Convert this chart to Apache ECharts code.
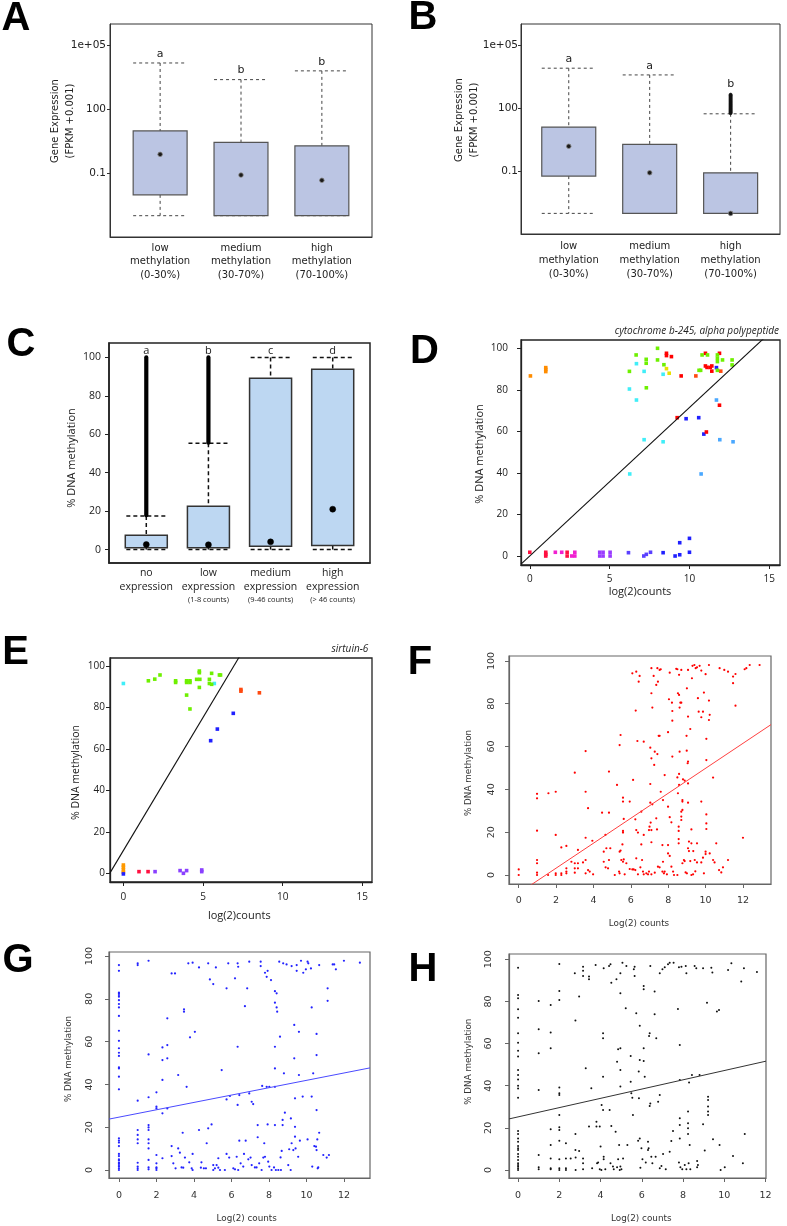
<!DOCTYPE html>
<html><head><meta charset="utf-8">
<script src="https://cdn.jsdelivr.net/npm/echarts@6/dist/echarts.min.js"></script>
<style>html,body{margin:0;padding:0;background:#fff}#c{width:787px;height:1226px}</style>
</head><body><div id="c"></div>
<script>
// ================= DATA =================
// Panels A/B: gene expression (FPKM + 0.001) by methylation class
// each box: [lower whisker, Q1, median, Q3, upper whisker]
const methylCats = ['low\nmethylation\n(0-30%)', 'medium\nmethylation\n(30-70%)', 'high\nmethylation\n(70-100%)'];
const boxA_low = [0.001, 0.0095, 0.76, 9.5, 14800];
const boxA_medium = [0.001, 0.001, 0.081, 2.75, 2450];
const boxA_high = [0.001, 0.001, 0.046, 1.9, 6300];
const lettersA = ['a', 'b', 'b'];
const boxB_low = [0.001, 0.059, 1.55, 12.6, 7940];
const boxB_medium = [0.001, 0.001, 0.085, 1.9, 3800];
const boxB_high = [0.001, 0.001, 0.001, 0.085, 54];
const outliersB_high = [58, 64, 71, 79, 88, 98, 110, 123, 138, 155, 174, 196, 220, 248, 280, 316, 356, 400, 436];
const lettersB = ['a', 'a', 'b'];
const expTicks = [0.1, 100, 100000];
const expTickLabels = ['0.1', '100', '1e+05'];

// Panel C: % DNA methylation by expression class
const cCats = ['no\nexpression', 'low\nexpression', 'medium\nexpression', 'high\nexpression'];
const cSub = ['', '(1-8 counts)', '(9-46 counts)', '(> 46 counts)'];
const boxC_no = [0, 1, 2.6, 7.5, 17.5];
const boxC_low = [0, 1, 2.5, 22.6, 55.3];
const boxC_medium = [0, 1.7, 4, 89.2, 100];
const boxC_high = [0, 2.1, 21, 93.9, 100];
const outlierRangeC = [[17.8, 100], [55.6, 100], null, null];
const lettersC = ['a', 'b', 'c', 'd'];
const pctTicks = [0, 20, 40, 60, 80, 100];

// Panel D: cytochrome b-245, alpha polypeptide  [log2 counts, % methylation]
const dTitle = 'cytochrome b-245, alpha polypeptide';
const dOrange = [[0.04, 86.7], [1.0, 88.8], [1.0, 89.8], [1.0, 90.7]];
const dCrimson = [[0, 1.8], [1, 0], [1, 0.8], [1, 1.8], [2.34, 1.8], [2.34, 0]];
const dMagenta = [[1.6, 1.8], [2.0, 1.8], [2.63, 0], [2.82, 1.8], [2.82, 0]];
const dViolet = [[4.38, 1.8], [4.38, 0], [4.59, 1.8], [4.59, 0], [5.03, 1.8], [5.03, 0]];
const dIndigo = [[6.18, 1.6], [7.14, 0], [7.3, 0.8], [7.56, 1.8]];
const dBlue = [[8.35, 1.6], [9.1, 0], [9.39, 6.4], [9.39, 0.6], [10.0, 8.5], [10.0, 1.8], [9.79, 66.1], [10.58, 66.6], [10.9, 58.7], [11.69, 90.7]];
const dRed = [[9.23, 66.6], [11.06, 59.7], [11.88, 72.6], [8.56, 97.6], [8.56, 96.5], [8.87, 96], [9.48, 86.7], [11.0, 97.6], [11.0, 91.5], [11.1, 90.8], [11.3, 90.8], [11.4, 91.5], [11.4, 89], [11.88, 97.6]];
const dOrangeRed = [[10.4, 86.7], [11.96, 89]];
const dSky = [[11.69, 75.1], [11.9, 56], [12.73, 55], [10.73, 39.5]];
const dCyan = [[6.24, 80.4], [6.68, 75.1], [6.68, 92.6], [7.16, 88.9], [7.16, 56], [6.26, 39.5], [8.35, 55], [8.35, 87.5]];
const dGreen = [[6.24, 88.9], [6.66, 96.8], [7.29, 94.7], [7.29, 92.8], [7.3, 81], [8.0, 100], [8.0, 94.4], [8.4, 92.1], [10.6, 89.4], [10.7, 89.4], [10.79, 96.8], [11.13, 96.8], [11.75, 96.8], [11.75, 95.2], [11.75, 93.6], [11.75, 89.4], [12.07, 94.4], [12.67, 94.4], [12.67, 92]];
const dYellow = [[8.56, 90.2], [8.73, 88]];
const dFit = {intercept: 0, slope: 7.15};
const dTicksX = [0, 5, 10, 15];

// Panel E: sirtuin-6
const eTitle = 'sirtuin-6';
const eCyan = [[0, 91.6], [5.71, 91.6]];
const eOrange = [[0, 4], [0, 2.9], [0, 1.6], [0, 0.5]];
const eBlue = [[0, -0.3], [6.9, 77.2], [5.9, 69.6], [5.48, 64]];
const eRed = [[0.98, 0.8], [1.55, 0.8]];
const eViolet = [[1.99, 0.8], [3.56, 1.3], [3.77, 0], [3.97, 1.3], [4.92, 0.8], [4.92, 1.6]];
const eGreen = [[1.57, 92.9], [1.97, 93.7], [2.3, 95.7], [3.28, 92.9], [3.28, 92.1], [3.97, 92.9], [3.97, 92.1], [4.18, 92.9], [4.18, 92.1], [3.97, 86], [4.18, 79.3], [4.77, 97.6], [4.77, 96.8], [4.6, 93.6], [4.8, 93.6], [4.77, 89.7], [5.4, 93.6], [5.4, 91.6], [5.54, 96.5], [5.54, 91.2], [6.03, 95.7], [6.1, 95.7]];
const eOrangeRed = [[7.38, 88.7], [7.38, 87.9], [8.54, 87.1]];
const eFit = {intercept: 11, slope: 12.84};

// Panel F
const fPoints = [
[6.08,94.2],[6.29,95],[6.42,90.3],[6.47,93],[7.1,96.6],[7.22,93],[7.36,88.8],[7.45,90.3],[7.42,96.6],[7.54,95.8],[7.6,96.1],[8.08,94.5],[8.43,96.3],[8.49,96.1],[8.58,93.5],[8.7,95.8],[9.06,95.8],[9.27,91.9],[9.3,97.7],[9.4,98.1],[9.47,96.6],[9.54,97],[9.68,97.7],[9.77,95.5],[10.0,93.8],[10.18,98.1],[10.75,96.6],[11.0,95.8],[11.2,95],[11.47,89.6],[11.47,92.7],[11.6,93.9],[12.09,96.1],[12.18,96.6],[12.36,98.1],[12.89,98.1],
[6.26,76.8],[6.35,62.6],[6.69,62.3],[7.1,84.9],[7.15,78.2],[7.49,65],[7.54,65],[8.04,82.1],[8.2,80.5],[8.22,76.6],[7.99,66.7],[8.52,84.9],[8.58,84.1],[8.65,80.5],[8.7,80.5],[8.61,78.2],[9.0,87.2],[8.98,65],[9.06,74],[9.18,68.2],[9.91,85.2],[9.59,82.6],[9.63,76.3],[9.77,73.7],[9.86,76.3],[10.18,81.5],[10.18,72.4],[10.22,74.8],[10.04,63.6],[11.6,79.1],[8.22,72.1],[8.61,57.6],[8.99,58.1],[7.04,59.5],[7.1,54.5],[7.28,57.6],[7.42,56.5],[7.25,51.4],[5.4,60.7],[5.45,65.4],[3.58,57.9],[8.22,55.3],[9.04,52.2],[9.06,53],[10.04,53.7],
[0.98,37.9],[0.98,35.8],[1.59,38.2],[1.98,38.9],[3.0,47.8],[3.58,38.9],[3.71,31.2],[4.83,48.3],[5.26,42.1],[5.58,36.1],[5.58,34.3],[5.94,34.3],[6.12,44.4],[7.04,42.5],[7.04,33.8],[7.15,33],[7.6,38.9],[7.81,46.7],[8.58,47.2],[8.49,45.6],[8.52,38.2],[8.58,42.1],[8.79,44.7],[8.88,44.1],[9.06,42.8],[9.06,33.8],[8.76,35],[8.76,34.3],[8.76,30.4],[8.7,29.6],[9.77,34.3],[10.4,45.5],[7.99,31.9],[7.72,35],
[0.98,20.7],[1.98,18.7],[3.58,17.4],[3.94,16],[4.46,29.1],[4.83,29.1],[4.64,18.7],[5.62,26.2],[5.58,20.6],[5.58,19.8],[6.24,26],[6.29,21],[6.38,19.8],[6.56,29.6],[6.69,18.7],[7.0,22.6],[7.06,24.5],[6.97,21],[7.1,21],[7.4,21.3],[7.36,26.5],[7.69,14],[8.08,27],[8.17,24.6],[7.99,14],[8.56,22.6],[8.56,20.6],[8.56,16.8],[8.56,14.8],[8.7,27.3],[8.7,25.7],[9.24,21.3],[9.11,15.6],[9.24,14.8],[9.54,14.8],[10.04,24.1],[10.04,21.5],[10.04,28.3],[10.57,14.8],[12.0,17.4],[9.06,12.5],[9.11,11.2],[9.34,11.2],[10.0,10.9],[10.0,9.8],[2.55,13.6],[2.28,12.9],[3.17,11.7],[4.69,12.5],[4.9,12.5],[4.55,10.9],[5.4,10.9],[5.45,11.4],[5.55,14.3],[6.56,14.3],[7.1,15.3],
[0,2.6],[0,0],[0.98,7],[0.98,5.5],[0.98,1.1],[0.98,0],[1.57,0],[1.98,0],[1.98,0.8],[2.28,0],[2.28,0.8],[2.55,3.1],[2.55,1.6],[2.55,0.8],[2.82,6.2],[3.0,5.5],[3.0,3.1],[3.0,1.1],[3.17,5.5],[3.17,3.1],[3.44,5.9],[3.58,7],[3.58,0.8],[3.71,2.3],[3.8,1.6],[3.98,0.3],[4.55,6.2],[4.65,3.6],[4.78,3.1],[4.83,7],[5.14,0],[5.37,1.6],[5.4,0.8],[5.49,7],[5.58,6.2],[5.62,7.3],[5.76,5.5],[5.67,0.3],[5.94,2.8],[6.08,2.6],[6.15,2.6],[6.24,2.3],[6.29,7.8],[6.38,0.3],[6.51,3.6],[6.6,7],[6.65,1.6],[6.69,0.3],[6.83,0.8],[6.92,0.3],[6.97,1.6],[7.1,0.3],[7.28,1.1],[7.45,3.9],[7.54,3.6],[7.69,1.6],[7.72,6.2],[7.77,0.8],[7.81,1.6],[7.93,0.3],[7.99,10.1],[8.08,8.9],[8.17,3.9],[8.26,1.6],[8.31,0],[8.49,0],[8.76,5.5],[8.88,6.5],[8.84,7],[8.93,1.2],[9.0,0.8],[9.18,6.5],[9.24,0],[9.33,0.3],[9.42,7],[9.45,1.7],[9.54,5.9],[9.77,5.9],[9.86,8.1],[9.91,0.8],[10.22,10.1],[10.4,7],[10.48,5.9],[10.72,2.3],[10.84,1.2],[10.93,3.6],[11.2,7]
];
const fFit = {intercept: -8.46, slope: 5.83};

// Panel G
const gPoints = [
[0,95.8],[0,93.1],[0,81],[0,82.6],[0,82.9],[0,81.8],[0,79.4],[0,77.6],[0,76],[0,72],[0,65.1],[0,60.4],[0,56.9],[0,54.8],[0,53.3],[0,48],[0,47.5],[0,43.6],[0,37.7],[0,14.8],[0,13.7],[0,12.8],[0,11.2],[0,7.5],[0,6.5],[0,5],[0,4.4],[0,3.4],[0,3.1],[0,2.3],[0,1.6],[0,0.8],[0,0],
[1,96.6],[1,95.8],[1,32.4],[1,18.7],[1,16.4],[1,14.3],[1,12.5],[1,3.4],[1,1.6],[1,0.8],[1,0],
[1.58,97.8],[1.58,54],[1.58,34],[1.58,21],[1.58,19.9],[1.58,18.7],[1.58,14.3],[1.58,12.5],[1.58,10.1],[1.58,4.7],[1.58,1.2],[1.58,0.3],
[2,36.3],[2,29.6],[2,28.8],[2,7],[2,3.1],[2,1.2],[2,0],[2,0.8],
[2.32,57.3],[2.32,51.4],[2.32,42.1],[2.32,26.5],[2.32,5.5],
[2.58,70.9],[2.58,58.4],[2.58,52.2],[2.58,28.8],
[2.81,91.9],[2.99,91.9],[2.81,11.2],[2.81,6.5],[2.9,3.1],[3.02,0.8],[3.16,44.4],[3.16,10.1],[3.25,8.1],[3.34,1.2],[3.4,17.4],[3.43,1.1],[3.47,75.1],[3.47,74],[3.52,5.8],[3.61,38.9],[3.7,96.6],[3.79,62],[3.75,3.6],[3.88,0.8],[3.93,96.9],[3.93,0],[3.93,7.5],[4.05,64.6],[4.27,18.7],[4.27,94.7],[4.37,1.1],[4.4,3.6],[4.53,0.8],[4.64,0.8],[4.68,12.5],[4.76,96.6],[4.76,19.5],[4.85,89.1],[4.94,21.3],[5.03,86.9],[5.03,0],[5.03,2.3],[5.12,0.8],[5.17,94.7],[5.21,2.3],[5.3,1.1],[5.39,0],[5.3,5.5],[5.48,46.7],[5.65,0],[5.74,84.9],[5.74,33],[5.74,7.5],[5.83,96.6],[5.88,5.8],[5.92,34.6],[6.1,0.8],[6.19,89.6],[6.19,0.3],[6.28,6.2],[6.33,96.6],[6.33,57.6],[6.33,30.4],[6.36,95],[6.36,0],[6.42,35],[6.42,13.7],[6.49,3.1],[6.63,1.6],[6.67,7.5],[6.76,13.7],[6.72,76.6],[6.84,84.9],[6.9,5],[6.95,35.8],[6.95,97.4],[7.02,5.8],[7.08,31.9],[7.16,30.8],[7.08,2.3],[7.25,1.2],[7.34,1.2],[7.4,21],[7.4,15.3],[7.48,3.1],[7.56,97.4],[7.56,95.3],[7.61,0],[7.64,39.3],[7.7,5.8],[7.75,12.5],[7.79,6.2],[7.79,92.2],[7.88,90.3],[7.88,38.9],[7.93,93.1],[7.93,21.3],[7.96,3.9],[8.02,38.9],[8.02,1.6],[8.11,88.8],[8.14,0],[8.27,1.2],[8.32,83.6],[8.32,78.2],[8.32,57.6],[8.32,47.5],[8.32,38.9],[8.32,21],[8.37,0],[8.41,82.6],[8.41,76],[8.44,74],[8.5,0],[8.55,97.4],[8.59,62.3],[8.62,5.9],[8.64,0],[8.68,8.9],[8.73,23.4],[8.73,21],[8.76,96.6],[8.8,45.2],[8.85,26.8],[8.94,96.1],[9.03,2.3],[9.08,9.7],[9.16,0],[9.17,24.1],[9.21,12.5],[9.21,95.3],[9.3,9.3],[9.35,67.8],[9.35,52.2],[9.39,33.5],[9.39,20.2],[9.39,15.6],[9.42,10.1],[9.48,95.8],[9.48,93.1],[9.56,6.2],[9.6,44.4],[9.6,64.6],[9.65,13.7],[9.71,97.8],[9.8,34.3],[9.83,92.2],[9.97,93.8],[10.06,97.4],[10.1,96.6],[10.06,14.3],[10.24,94.2],[10.28,76],[10.28,34.3],[10.31,1.6],[10.36,45.2],[10.42,11.2],[10.51,10.9],[10.54,28],[10.54,53.7],[10.54,63.6],[10.54,9.3],[10.58,14.3],[10.6,0.8],[10.63,1.2],[10.68,95.8],[10.68,17.4],[10.9,7],[11.08,5.8],[11.13,84.9],[11.13,79.1],[11.2,7],[11.4,96.1],[11.48,96.1],[11.57,93.8],[12.0,97.8],[12.85,96.9]
];
const gFit = {intercept: 24.7, slope: 1.72};

// Panel H
const hPoints = [
[0,96],[0,83.1],[0,81.5],[0,76.3],[0,72.3],[0,64.9],[0,60.4],[0,56.6],[0,53.8],[0,47.5],[0,45.1],[0,43],[0,40],[0,38.7],[0,34.3],[0,18.5],[0,17.1],[0,15],[0,13.4],[0,11.4],[0,10.3],[0,9.5],[0,7.6],[0,6.3],[0,4.7],[0,3.2],[0,2.4],[0,1.6],[0,0.8],[0,0],
[1,80.2],[1,66.8],[1,55.4],[1,38],[1,7.1],[1,1.3],[1,0.3],
[1.58,78.3],[1.58,65.2],[1.58,57.8],[1.58,19.3],[1.58,11.9],[1.58,5.5],[1.58,0.8],[1.58,0.3],
[2,97.8],[2,85],[2,80.7],[2,39.1],[2,36.4],[2,35.6],[2,26.1],[2,20.3],[2,19],[2,13.9],[2,5.1],[2,0.8],[2,0],
[2.32,12.7],[2.32,5.4],[2.32,0.8],[2.32,0],
[2.55,5.4],[2.75,93.4],[2.78,70.9],[2.78,17.1],[2.78,9.5],[2.79,5.9],[2.79,0],[2.96,82.3],[2.96,9],[3.15,96.5],[3.15,94.6],[3.15,92.1],[3.15,5.5],[3.15,3.2],[3.15,0.3],[3.28,48.3],[3.44,91.8],[3.44,90.5],[3.44,20.6],[3.55,38.8],[3.59,0.8],[3.76,97.3],[3.8,22.9],[3.8,20.6],[3.83,3.2],[3.88,3.5],[3.96,0.3],[3.96,20.6],[4.0,11.1],[4.04,0],[4.05,30.9],[4.12,64.9],[4.12,62.5],[4.12,44.3],[4.12,28.5],[4.15,95.7],[4.15,6.3],[4.15,5.1],[4.23,0.3],[4.41,96.8],[4.48,97.6],[4.44,28.5],[4.48,3.2],[4.52,88.9],[4.52,20.9],[4.6,1.6],[4.64,0.3],[4.73,18.2],[4.77,90.5],[4.8,51.4],[4.8,1.3],[4.85,57.3],[4.85,5.1],[4.9,11.9],[4.93,0],[4.96,39.6],[4.96,47.5],[4.96,57.8],[4.96,83.9],[4.96,93.4],[4.96,1.6],[5.01,0.3],[5.06,98.4],[5.09,5.5],[5.22,76.7],[5.25,96.8],[5.3,11.9],[5.46,54.1],[5.46,41.9],[5.49,36.4],[5.54,34.3],[5.57,26.1],[5.61,95.3],[5.65,96.5],[5.65,92.1],[5.73,74.4],[5.82,13.9],[5.85,46.7],[5.86,34],[5.9,52.2],[5.9,68.4],[5.9,15],[5.93,1.1],[5.98,10.3],[6.03,5.1],[6.09,57.8],[6.09,51.7],[6.09,85.8],[6.09,87.3],[6.14,44.3],[6.19,3.5],[6.3,13.4],[6.3,9.5],[6.33,10.3],[6.35,63.6],[6.38,64.9],[6.38,30.4],[6.41,96.8],[6.41,31.6],[6.46,6.3],[6.51,3.2],[6.62,84.7],[6.62,73.9],[6.67,6.3],[6.7,62.5],[6.79,32.4],[6.87,35.6],[6.87,93.4],[6.87,0.8],[6.95,1.9],[7.0,95.3],[7.03,7.6],[7.11,96.2],[7.16,0.3],[7.27,97.6],[7.35,98.4],[7.35,8.7],[7.43,13.8],[7.51,18.5],[7.54,98.4],[7.75,76.4],[7.8,96.2],[7.84,42.7],[7.84,59.3],[7.84,24.5],[7.84,21.4],[7.84,15],[7.8,3.5],[7.87,1.3],[7.92,96.5],[7.96,0.3],[8.08,2.4],[8.13,96.8],[8.16,0.3],[8.16,93.4],[8.24,27.7],[8.24,22.2],[8.24,19.8],[8.24,17.1],[8.27,3.2],[8.29,41.5],[8.32,11.9],[8.35,0.3],[8.43,45.1],[8.56,96.8],[8.64,95.7],[8.68,4.3],[8.68,1.3],[8.72,2.4],[8.8,45.1],[8.97,95.7],[8.97,21.7],[9.05,9.2],[9.16,79.4],[9.21,34.8],[9.21,33.2],[9.21,30.1],[9.21,27.7],[9.21,26.1],[9.37,96],[9.42,93.7],[9.45,14.6],[9.64,75.2],[9.74,75.9],[9.77,11.9],[9.82,0],[10.02,1.3],[10.18,94.9],[10.34,98.1],[10.42,6.6],[10.82,89.4],[10.9,3.2],[10.95,95.7],[10.99,17.1],[11.58,94]
];
const hFit = {intercept: 25.2, slope: 2.2};
const fghTicksX = [0, 2, 4, 6, 8, 10, 12];

// ================= CHART =================
const FR = 'DejaVu Sans';
const FM = 'Open Sans';
const FB = 'Liberation Sans';
const lg = v => Math.log10(v);

function axis(gridIndex, min, max, ticks, o) {
  const label = {show: o.label !== false, customValues: ticks, margin: o.margin, rotate: o.rotate || 0,
    fontFamily: o.font, fontSize: o.size, color: o.color || '#222'};
  if (o.formatter) label.formatter = o.formatter;
  if (o.lineHeight) label.lineHeight = o.lineHeight;
  if (o.rich) label.rich = o.rich;
  return {
    type: 'value', gridIndex, min, max, scale: false,
    axisLine: {show: true, onZero: false, lineStyle: {color: o.lineColor, width: o.lineWidth}},
    axisTick: {show: o.tick !== false, inside: false, length: o.tickLen || 4, customValues: ticks,
      lineStyle: {color: o.lineColor, width: 1}},
    axisLabel: label,
    splitLine: {show: false}, splitArea: {show: false}
  };
}

function boxRenderer(cfg) {
  return function (params, api) {
    const i = params.dataIndex;
    const x = api.value(0);
    const v = [1, 2, 3, 4, 5].map(d => api.value(d));
    const y = val => api.coord([x, val])[1];
    const cx = api.coord([x, v[2]])[0];
    const half = api.size([cfg.boxW, 0])[0] / 2;
    const cap = half * cfg.capFrac;
    const yLo = y(v[0]), yQ1 = y(v[1]), yMed = y(v[2]), yQ3 = y(v[3]), yHi = y(v[4]);
    const ws = {stroke: cfg.wColor, lineWidth: cfg.wWidth, lineDash: cfg.dash, fill: null};
    const ch = [
      {type: 'line', shape: {x1: cx, y1: yHi, x2: cx, y2: yQ3}, style: ws},
      {type: 'line', shape: {x1: cx, y1: yQ1, x2: cx, y2: yLo}, style: ws},
      {type: 'line', shape: {x1: cx - cap, y1: yHi, x2: cx + cap, y2: yHi}, style: ws},
      {type: 'line', shape: {x1: cx - cap, y1: yLo, x2: cx + cap, y2: yLo}, style: ws},
      {type: 'rect', shape: {x: cx - half, y: yQ3, width: 2 * half, height: Math.max(yQ1 - yQ3, 0.5)},
        style: {fill: cfg.fill, stroke: cfg.stroke, lineWidth: cfg.sWidth}}
    ];
    let top = yHi;
    if (cfg.outliers && cfg.outliers[i]) {
      for (const o of cfg.outliers[i]) {
        const yy = y(o);
        ch.push({type: 'circle', shape: {cx: cx, cy: yy, r: cfg.outR}, style: {fill: '#111', stroke: '#111', lineWidth: 0.6}});
        top = Math.min(top, yy - cfg.outR);
      }
    }
    if (cfg.outRange && cfg.outRange[i]) {
      const r = cfg.outRange[i];
      const y1 = y(r[0]), y2 = y(r[1]);
      ch.push({type: 'line', shape: {x1: cx, y1: y1, x2: cx, y2: y2}, style: {stroke: '#000', lineWidth: cfg.outW, lineCap: 'round'}});
      top = Math.min(top, y2);
    }
    ch.push({type: 'circle', shape: {cx: cx, cy: yMed, r: cfg.dotR}, style: {fill: cfg.dotFill, stroke: cfg.dotStroke, lineWidth: cfg.dotLW}});
    const ly = cfg.letterLevel != null ? y(cfg.letterLevel) - cfg.letterGap : top - cfg.letterGap;
    ch.push({type: 'text', x: cx, y: ly, style: {text: cfg.letters[i], fill: '#222', font: cfg.letterFont, align: 'center', verticalAlign: 'middle'}});
    return {type: 'group', children: ch};
  };
}

const toLogBox = (b, i) => [i + 1].concat(b.map(lg));
const dataA = [boxA_low, boxA_medium, boxA_high].map(toLogBox);
const dataB = [boxB_low, boxB_medium, boxB_high].map(toLogBox);
const dataC = [boxC_no, boxC_low, boxC_medium, boxC_high].map((b, i) => [i + 1].concat(b));

const expTickVals = expTicks.map(lg);
const expFmt = v => { const k = expTickVals.findIndex(t => Math.abs(t - v) < 1e-6); return k >= 0 ? expTickLabels[k] : ''; };
const methFmt = v => methylCats[Math.round(v) - 1] || '';
const cFmt = v => {
  const i = Math.round(v) - 1;
  if (i < 0 || i >= cCats.length) return '';
  let s = cCats[i].split('\n').map(t => '{m|' + t + '}').join('\n');
  if (cSub[i]) s += '\n{s|' + cSub[i] + '}';
  return s;
};

const grids = [
  {left: 110, top: 24, width: 262, height: 213, borderColor: '#333', borderWidth: 1},
  {left: 521, top: 24, width: 259, height: 210, borderColor: '#333', borderWidth: 1},
  {left: 109, top: 343, width: 261, height: 220, borderColor: '#222', borderWidth: 1.5},
  {left: 521, top: 340, width: 259, height: 225, borderColor: '#222', borderWidth: 1.3},
  {left: 110, top: 658, width: 262, height: 224, borderColor: '#222', borderWidth: 1.3},
  {left: 509, top: 656, width: 262, height: 228, borderColor: '#666', borderWidth: 1.2},
  {left: 109, top: 952, width: 261, height: 226, borderColor: '#666', borderWidth: 1.2},
  {left: 509, top: 954, width: 257, height: 224, borderColor: '#666', borderWidth: 1.2}
].map(g => Object.assign({show: true, backgroundColor: 'transparent', containLabel: false, outerBoundsMode: 'none'}, g));

const abX = {lineColor: '#333', lineWidth: 1, tick: false, font: FR, size: 10, lineHeight: 13.6, formatter: methFmt};
const abY = {lineColor: '#333', lineWidth: 1, tickLen: 3, font: FR, size: 10.5, formatter: expFmt, margin: 4};
const deStyle = {lineColor: '#222', lineWidth: 1.3, tickLen: 4, font: FM, size: 10};
const fghStyle = {lineColor: '#666', lineWidth: 1.2, tickLen: 4, font: FR, size: 9.5, color: '#333'};

const xAxes = [
  axis(0, 0.38, 3.62, [1, 2, 3], Object.assign({}, abX, {margin: 4.5})),
  axis(1, 0.41, 3.61, [1, 2, 3], Object.assign({}, abX, {margin: 6})),
  axis(2, 0.4, 4.6, [1, 2, 3, 4], {lineColor: '#222', lineWidth: 1.5, tick: false, font: FM, size: 10.5, margin: 3.5, formatter: cFmt,
    rich: {m: {fontFamily: FM, fontSize: 10.5, lineHeight: 13.5, color: '#222'}, s: {fontFamily: FM, fontSize: 7.5, lineHeight: 12.5, color: '#222'}}}),
  axis(3, -0.55, 15.67, dTicksX, Object.assign({}, deStyle, {margin: 9})),
  axis(4, -0.84, 15.61, dTicksX, Object.assign({}, deStyle, {margin: 10})),
  axis(5, -0.52, 13.5, fghTicksX, Object.assign({}, fghStyle, {margin: 12})),
  axis(6, -0.53, 13.39, fghTicksX, Object.assign({}, fghStyle, {margin: 12.5})),
  axis(7, -0.44, 12.02, fghTicksX, Object.assign({}, fghStyle, {margin: 13}))
];
const yAxes = [
  axis(0, -4, 6, expTickVals, abY),
  axis(1, -3.98, 6.0, expTickVals, Object.assign({}, abY, {margin: 3})),
  axis(2, -7, 107.5, pctTicks, {lineColor: '#222', lineWidth: 1.5, tickLen: 4, font: FM, size: 10.5, margin: 8}),
  axis(3, -4.33, 104, pctTicks, Object.assign({}, deStyle, {margin: 13})),
  axis(4, -4.2, 103.9, pctTicks, Object.assign({}, deStyle, {margin: 5})),
  axis(5, -4.2, 102.3, pctTicks, Object.assign({}, fghStyle, {margin: 12, rotate: 90})),
  axis(6, -3.74, 101.9, pctTicks, Object.assign({}, fghStyle, {margin: 14, rotate: 90})),
  axis(7, -3.8, 102.5, pctTicks, Object.assign({}, fghStyle, {margin: 15.5, rotate: 90}))
];

const series = [];
const abCfg = {boxW: 0.667, capFrac: 1, wColor: '#444', wWidth: 1, dash: [3, 3], fill: '#bbc5e3', stroke: '#555', sWidth: 1.2,
  dotR: 2.3, dotFill: '#1a1a1a', dotStroke: '#888', dotLW: 0.8, letterFont: '11px ' + FR, letterGap: 9};
series.push({type: 'custom', xAxisIndex: 0, yAxisIndex: 0, data: dataA, clip: false,
  renderItem: boxRenderer(Object.assign({}, abCfg, {letters: lettersA}))});
series.push({type: 'custom', xAxisIndex: 1, yAxisIndex: 1, data: dataB, clip: false,
  renderItem: boxRenderer(Object.assign({}, abCfg, {letters: lettersB, outliers: [null, null, outliersB_high.map(lg)], outR: 1.6}))});
series.push({type: 'custom', xAxisIndex: 2, yAxisIndex: 2, data: dataC, clip: false,
  renderItem: boxRenderer({boxW: 0.676, capFrac: 0.95, wColor: '#111', wWidth: 1.5, dash: [4, 3], fill: '#bdd7f2', stroke: '#333', sWidth: 1.5,
    dotR: 3, dotFill: '#000', dotStroke: '#000', dotLW: 0.5, letterFont: '11px ' + FM, letterGap: 7, letterLevel: 100,
    letters: lettersC, outRange: outlierRangeC, outW: 4.2})});

function scat(ax, data, color, size, symbol) {
  return {type: 'scatter', xAxisIndex: ax, yAxisIndex: ax, data, symbol: symbol || 'rect', symbolSize: size,
    itemStyle: {color, opacity: 1}, silent: true, clip: true};
}
function fitLine(ax, fit, xmin, xmax, color, width) {
  return {type: 'line', xAxisIndex: ax, yAxisIndex: ax, symbol: 'none', clip: true, silent: true,
    data: [[xmin, fit.intercept + fit.slope * xmin], [xmax, fit.intercept + fit.slope * xmax]],
    lineStyle: {color, width}};
}
series.push(fitLine(3, dFit, -0.55, 15.67, '#111', 1.1));
[[dOrange, '#ff8c00'], [dCrimson, '#ff1040'], [dMagenta, '#f020d0'], [dViolet, '#9a3cff'], [dIndigo, '#5a40ff'],
 [dBlue, '#2020ff'], [dRed, '#ff0000'], [dOrangeRed, '#ff4a10'], [dSky, '#4aa8ff'], [dCyan, '#40eef8'],
 [dGreen, '#6ef000'], [dYellow, '#e8e000']].forEach(p => series.push(scat(3, p[0], p[1], [3.6, 3.6])));
series.push(fitLine(4, eFit, -0.84, 15.61, '#111', 1.1));
[[eCyan, '#40eef8'], [eOrange, '#ff9a00'], [eBlue, '#2020ff'], [eRed, '#ff1040'], [eViolet, '#8a40ff'],
 [eGreen, '#6ef000'], [eOrangeRed, '#ff4a10']].forEach(p => series.push(scat(4, p[0], p[1], [3.6, 3.6])));
series.push(scat(5, fPoints, '#ff0000', 2.2, 'circle'));
series.push(fitLine(5, fFit, -0.52, 13.5, '#ff4040', 1));
series.push(scat(6, gPoints, '#2222ff', 2.2, 'circle'));
series.push(fitLine(6, gFit, -0.53, 13.39, '#4a4aff', 1));
series.push(scat(7, hPoints, '#111', 2.0, 'circle'));
series.push(fitLine(7, hFit, -0.44, 12.02, '#333', 1));

function gtext(x, y, text, font, opts) {
  opts = opts || {};
  return {type: 'text', x, y, rotation: opts.rot || 0, silent: true,
    style: {text, font, fill: opts.fill || '#222', align: opts.align || 'center', verticalAlign: 'middle', lineHeight: opts.lh}};
}
const V = Math.PI / 2;
const panelFont = 'bold 40px ' + FB;
const graphics = [
  gtext(16, 19, 'A', panelFont, {fill: '#000'}),
  gtext(423, 18, 'B', panelFont, {fill: '#000'}),
  gtext(21, 345, 'C', panelFont, {fill: '#000'}),
  gtext(424.5, 351.5, 'D', panelFont, {fill: '#000'}),
  gtext(15.5, 653, 'E', panelFont, {fill: '#000'}),
  gtext(420, 663, 'F', panelFont, {fill: '#000'}),
  gtext(18, 961, 'G', panelFont, {fill: '#000'}),
  gtext(423, 970, 'H', panelFont, {fill: '#000'}),
  gtext(62.5, 121, 'Gene Expression\n(FPKM +0.001)', '10px ' + FR, {rot: V, lh: 15}),
  gtext(467, 120, 'Gene Expression\n(FPKM +0.001)', '10px ' + FR, {rot: V, lh: 15}),
  gtext(71.7, 458, '% DNA methylation', '11px ' + FM, {rot: V}),
  gtext(480.3, 454, '% DNA methylation', '11px ' + FM, {rot: V}),
  gtext(640, 591.7, 'log(2)counts', '11px ' + FM),
  gtext(779, 330.7, dTitle, 'italic 10px ' + FM, {align: 'right'}),
  gtext(76, 772.5, '% DNA methylation', '10.5px ' + FM, {rot: V}),
  gtext(239.3, 915.7, 'log(2)counts', '11px ' + FM),
  gtext(368.3, 649.3, eTitle, 'italic 10px ' + FM, {align: 'right'}),
  gtext(469, 773, '% DNA methylation', '8.8px ' + FR, {rot: V, fill: '#333'}),
  gtext(639, 924, 'Log(2) counts', '8.8px ' + FR, {fill: '#333'}),
  gtext(69, 1059, '% DNA methylation', '8.8px ' + FR, {rot: V, fill: '#333'}),
  gtext(246.7, 1218.3, 'Log(2) counts', '8.8px ' + FR, {fill: '#333'}),
  gtext(469, 1061.7, '% DNA methylation', '8.8px ' + FR, {rot: V, fill: '#333'}),
  gtext(641.3, 1219, 'Log(2) counts', '8.8px ' + FR, {fill: '#333'})
];

const chart = echarts.init(document.getElementById('c'), null, {renderer: 'canvas', width: 787, height: 1226});
chart.setOption({
  animation: false,
  backgroundColor: '#fff',
  grid: grids,
  xAxis: xAxes,
  yAxis: yAxes,
  series: series,
  graphic: graphics
});
</script></body></html>
